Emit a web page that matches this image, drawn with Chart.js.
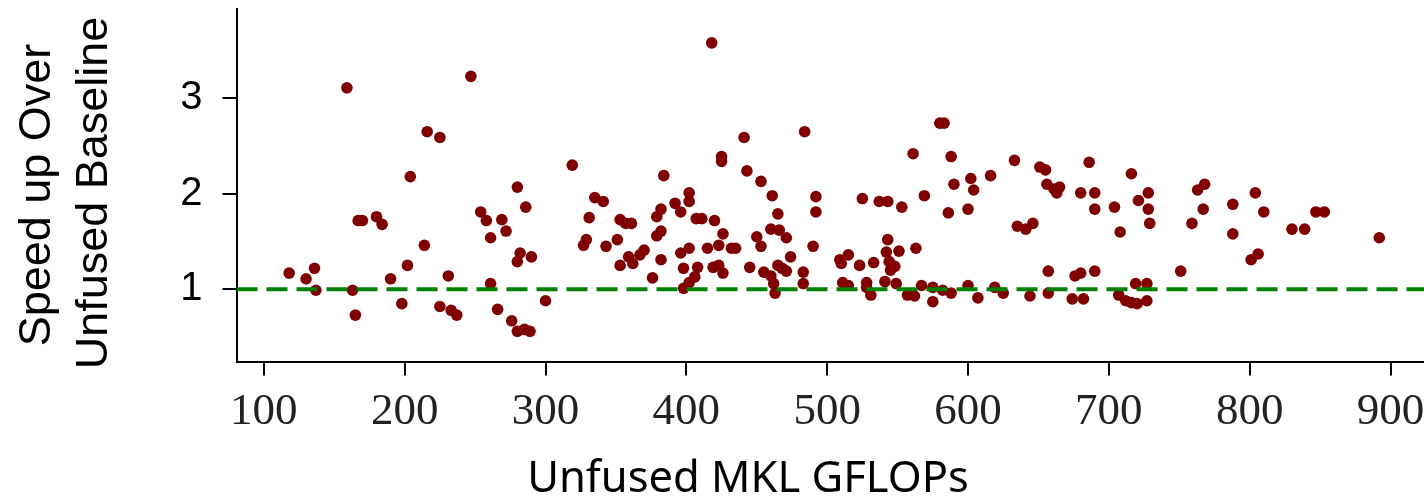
<!DOCTYPE html>
<html>
<head>
<meta charset="utf-8">
<script src="https://cdn.jsdelivr.net/npm/chart.js@4.4.1/dist/chart.umd.min.js"></script>
<style>
  html, body { margin: 0; padding: 0; background: #fff; }
  #wrap { width: 1424px; height: 498px; overflow: hidden; position: relative; }
  #scatter { display: block; }
</style>
</head>
<body>
<div id="wrap"><canvas id="scatter" width="1470" height="498"></canvas></div>
<script>
// Unfused MKL GFLOPs (x) and speed-up over the unfused baseline (y), one entry per kernel
var gflops = [
  118,130,136,137,159,163,165,167,170,180,184,190,198,202,204,214,216,225,231,225,
  233,237,247,254,258,269,272,261,261,266,276,280,285,289,280,286,282,280,290,300,
  319,335,341,331,329,327,343,351,353,357,361,353,359,362,367,370,376,382,379,382,
  379,382,384,392,396,402,402,407,411,420,396,402,415,423,426,432,435,398,408,406,
  402,398,419,423,426,418,441,425,425,443,453,461,465,460,466,471,450,453,445,474,
  455,460,462,463,465,468,471,483,483,484,492,492,490,
  509,515,510,523,533,543,542,544,548,545,551,525,537,543,553,569,561,580,583,588,
  590,602,604,616,586,600,633,635,641,646,563,511,515,528,531,528,541,549,557,562,
  567,575,575,582,588,600,607,619,625,644,
  651,655,656,661,665,663,686,680,690,690,704,716,728,721,728,729,708,759,763,768,
  767,788,788,804,810,801,806,830,839,847,853,892,657,676,680,690,751,657,674,682,
  707,712,716,720,727,719,727
];
var speedup = [
  1.17,1.11,1.22,0.99,3.11,0.99,0.73,1.72,1.72,1.76,1.68,1.11,0.85,1.25,2.18,1.46,2.65,2.59,1.14,0.82,
  0.78,0.73,3.23,1.81,1.72,1.73,1.61,1.54,1.06,0.79,0.67,0.56,0.58,0.56,2.07,1.86,1.38,1.29,1.34,0.88,
  2.30,1.96,1.92,1.75,1.52,1.46,1.45,1.52,1.73,1.69,1.69,1.25,1.34,1.27,1.36,1.41,1.12,1.31,1.56,1.61,
  1.76,1.84,2.19,1.90,1.81,2.01,1.92,1.74,1.74,1.72,1.38,1.43,1.43,1.46,1.58,1.43,1.43,1.22,1.23,1.13,
  1.07,1.01,1.23,1.25,1.17,3.58,2.59,2.39,2.34,2.24,2.13,1.98,1.79,1.63,1.62,1.54,1.55,1.45,1.23,1.34,
  1.18,1.14,1.06,0.96,1.25,1.22,1.19,1.18,1.06,2.65,1.97,1.81,1.45,
  1.31,1.36,1.27,1.25,1.28,1.52,1.39,1.29,1.24,1.20,1.40,1.95,1.92,1.92,1.86,1.98,2.42,2.74,2.74,2.39,
  2.10,2.16,2.04,2.19,1.80,1.84,2.35,1.66,1.63,1.69,1.43,1.07,1.04,1.07,0.94,1.02,1.08,1.06,0.94,0.93,
  1.04,0.87,1.02,0.99,0.96,1.04,0.91,1.02,0.96,0.93,
  2.28,2.25,2.10,2.05,2.07,2.01,2.33,2.01,2.01,1.84,1.86,2.21,2.01,1.93,1.84,1.69,1.60,1.69,2.04,2.10,
  1.84,1.89,1.58,2.01,1.81,1.31,1.37,1.63,1.63,1.81,1.81,1.54,1.19,1.14,1.17,1.19,1.19,0.96,0.90,0.90,
  0.94,0.88,0.86,0.85,0.88,1.06,1.06
];

var xTicks = [100, 200, 300, 400, 500, 600, 700, 800, 900];
var yTicks = [1, 2, 3];
var xRange = [80.6, 952.3];
var yRange = [0.244, 3.935];
var baselineY = [1, 1];   // speed-up of 1 = no gain

var points = gflops.map(function (g, i) { return { x: g, y: speedup[i] }; });
var baseline = xRange.map(function (x, i) { return { x: x, y: baselineY[i] }; });

// axis titles were placed by hand in the original figure, so draw them at fixed spots
var axisTitles = {
  id: 'axisTitles',
  afterDraw: function (chart) {
    var c = chart.ctx;
    c.save();
    c.fillStyle = '#000';
    c.textAlign = 'center';
    c.textBaseline = 'alphabetic';
    c.font = '43.5px "Noto Sans"';
    c.fillText('Unfused MKL GFLOPs', 748, 492);
    c.font = '45px "Liberation Sans"';
    c.translate(50, 195);
    c.rotate(-Math.PI / 2);
    c.fillText('Speed up Over', 0, 0);
    c.restore();
    c.save();
    c.fillStyle = '#000';
    c.textAlign = 'center';
    c.font = '45px "Liberation Sans"';
    c.translate(107, 193);
    c.rotate(-Math.PI / 2);
    c.fillText('Unfused Baseline', 0, 0);
    c.restore();
  }
};

function noPad(s) {
  s.paddingTop = 0;
  s.paddingBottom = 0;
  s.paddingLeft = 0;
  s.paddingRight = 0;
}

const ctx = document.getElementById('scatter').getContext('2d');

const config = {
  type: 'scatter',
  data: {
    datasets: [
      {
        type: 'line',
        label: 'baseline',
        data: baseline,
        borderColor: '#008000',
        borderWidth: 4,
        borderDash: [21, 9],
        pointRadius: 0,
        fill: false
      },
      {
        label: 'kernels',
        data: points,
        backgroundColor: '#800000',
        borderWidth: 0,
        pointRadius: 5.8
      }
    ]
  },
  options: {
    responsive: false,
    animation: false,
    layout: { padding: { top: 9, left: 0, right: 0, bottom: 0 } },
    plugins: { legend: { display: false }, tooltip: { enabled: false } },
    scales: {
      x: {
        type: 'linear',
        min: xRange[0],
        max: xRange[1],
        afterFit: function (s) { s.height = 136.5; noPad(s); },
        afterBuildTicks: function (s) { s.ticks = xTicks.map(function (v) { return { value: v }; }); },
        grid: { drawOnChartArea: false, drawTicks: true, tickLength: 14, color: '#000', lineWidth: 2 },
        border: { display: true, color: '#000', width: 2 },
        ticks: {
          padding: 10,
          color: '#222',
          maxRotation: 0,
          font: { family: 'Liberation Serif', size: 45 }
        }
      },
      y: {
        type: 'linear',
        min: yRange[0],
        max: yRange[1],
        afterFit: function (s) { s.width = 236.5; noPad(s); },
        afterBuildTicks: function (s) { s.ticks = yTicks.map(function (v) { return { value: v }; }); },
        grid: { drawOnChartArea: false, drawTicks: true, tickLength: 14, color: '#000', lineWidth: 2 },
        border: { display: true, color: '#000', width: 2 },
        ticks: {
          padding: 20,
          color: '#000',
          font: { family: 'Liberation Sans', size: 40 }
        }
      }
    }
  },
  plugins: [axisTitles]
};

var my_chart = new Chart(ctx, config);
</script>
</body>
</html>
